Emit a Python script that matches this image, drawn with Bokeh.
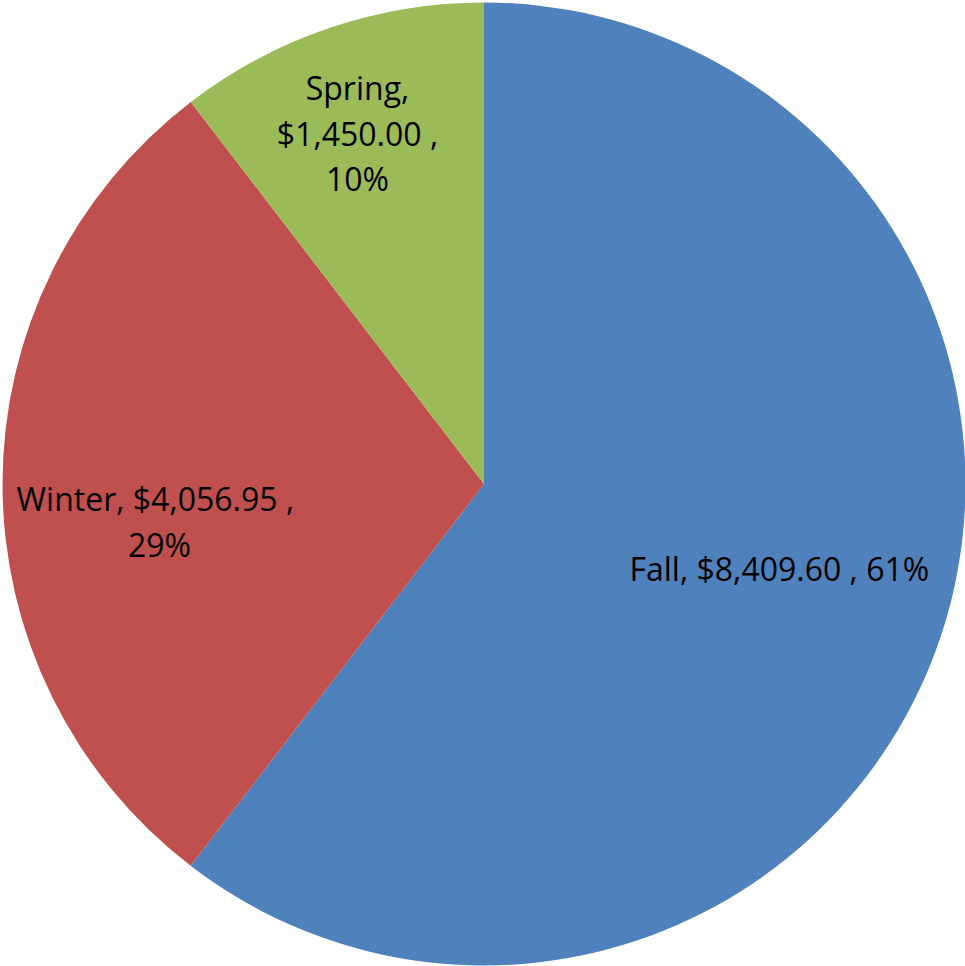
import math
from bokeh.plotting import figure
from bokeh.models import Range1d, ColumnDataSource
from bokeh.core.properties import value
from bokeh.embed import file_html
from bokeh.resources import INLINE

# ---- data ----
categories = ["Fall", "Winter", "Spring"]
amounts = [8409.60, 4056.95, 1450.00]
percents = [61, 29, 10]
colors = ["#4F81BD", "#C0504D", "#9BBB59"]
# how each label wraps (as in the original chart)
label_lines = [
    ["Fall,  $8,409.60 , 61%"],
    ["Winter,  $4,056.95 ,", "29%"],
    ["Spring,", "$1,450.00 ,", "10%"],
]

# ---- layout (page pixels, y flipped) ----
PAGE_H = 966
W, H = 965, 966
cx, cy, r = 483.5, PAGE_H - 483.5, 481.5

p = figure(width=W, height=H, output_backend="svg", toolbar_location=None,
           x_range=Range1d(0, W), y_range=Range1d(PAGE_H - H, PAGE_H),
           x_axis_location=None, y_axis_location=None, min_border=0)
p.outline_line_color = None
p.grid.visible = False
p.background_fill_color = "white"
p.border_fill_color = "white"

total = sum(amounts)
starts, ends = [], []
a = math.pi / 2
for v in amounts:
    b = a - 2 * math.pi * v / total
    starts.append(b)
    ends.append(a)
    a = b

src = ColumnDataSource(dict(start=starts, end=ends, color=colors, cat=categories))
p.wedge(x=cx, y=cy, radius=r, start_angle="start", end_angle="end",
        fill_color="color", line_color=None, source=src)

# label anchors: (center x, first baseline y) in page pixels
anchors = [(783, 568), (159, 498), (357, 87)]
LINE = 45.5
tx, ty, tt = [], [], []
for (ax, ay), lines in zip(anchors, label_lines):
    for i, s in enumerate(lines):
        tx.append(ax)
        ty.append(PAGE_H - (ay + i * LINE))
        tt.append(s)

p.text(x=tx, y=ty, text=tt, text_align="center", text_baseline="alphabetic",
       text_font=value("Open Sans"), text_font_size="32px", text_color="black")

open("out.html", "w").write(file_html(p, INLINE))
